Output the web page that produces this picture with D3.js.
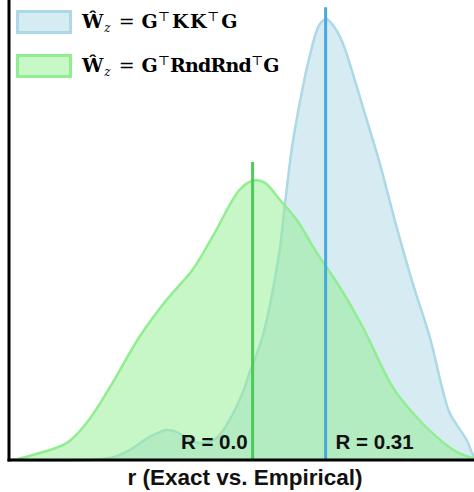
<!DOCTYPE html>
<html>
<head>
<meta charset="utf-8">
<script src="https://cdn.jsdelivr.net/npm/d3@7"></script>
<style>
  body { margin: 0; background: #fff; }
  svg { display: block; }
</style>
</head>
<body>
<svg id="chart" width="474" height="492"></svg>
<script>
// KDE curves (r value, density)
const kkR       = [-1.03, -0.607, -0.522, -0.437, -0.365, -0.323, -0.268, -0.212, -0.153, -0.098, -0.042, -0.013, 0.042, 0.115, 0.136, 0.166, 0.187, 0.242, 0.285, 0.314, 0.348, 0.382, 0.433, 0.484, 0.539, 0.611, 0.679, 0.752, 0.807, 0.837, 0.909, 0.943, 0.99]
const kkDensity = [0, 0.008, 0.042, 0.097, 0.126, 0.118, 0.084, 0.071, 0.092, 0.168, 0.282, 0.366, 0.517, 0.882, 1.063, 1.303, 1.429, 1.693, 1.828, 1.849, 1.815, 1.752, 1.597, 1.429, 1.248, 0.979, 0.744, 0.517, 0.294, 0.197, 0.084, 0.013, 0]

const rndR       = [-1.03, -1.02, -0.934, -0.79, -0.705, -0.607, -0.48, -0.365, -0.255, -0.17, -0.055, 0.0, 0.051, 0.115, 0.187, 0.272, 0.369, 0.467, 0.594, 0.68, 0.781, 0.866, 0.938, 0.99]
const rndDensity = [0, 0, 0.021, 0.071, 0.155, 0.303, 0.517, 0.672, 0.798, 0.937, 1.134, 1.172, 1.164, 1.092, 1.008, 0.870, 0.727, 0.559, 0.307, 0.197, 0.097, 0.034, 0.008, 0]

const meanLines = [
  { label: "R = 0.31", r: 0.31, top: 1.90, color: "#47a9dc" },
  { label: "R = 0.0",  r: 0.0,  top: 1.25, color: "#4ccb5a" }
]

const legendItems = ["KK", "RndRnd"]

const margin = { top: 0, right: 0, bottom: 32, left: 10 }
const W = 474, H = 492
const plotBottom = H - margin.bottom

const svg = d3.select("#chart")

const x = d3.scaleLinear().domain([-1.03, 0.94]).range([margin.left, W])
const y = d3.scaleLinear().domain([0, 1.93]).range([plotBottom, 0])

const area = d3.area()
  .x(d => x(d[0]))
  .y0(y(0))
  .y1(d => y(d[1]))
  .curve(d3.curveCatmullRom)

const line = d3.line()
  .x(d => x(d[0]))
  .y(d => y(d[1]))
  .curve(d3.curveCatmullRom)

const kk = d3.zip(kkR, kkDensity)
const rnd = d3.zip(rndR, rndDensity)

const plot = svg.append("g")

// blue first, green over it
plot.append("path").datum(kk)
  .attr("d", area)
  .attr("fill", "#add8e6").attr("fill-opacity", 0.5)
plot.append("path").datum(kk)
  .attr("d", line)
  .attr("fill", "none").attr("stroke", "#add8e6").attr("stroke-width", 2.5)

plot.append("path").datum(rnd)
  .attr("d", area)
  .attr("fill", "#90ee90").attr("fill-opacity", 0.5)
plot.append("path").datum(rnd)
  .attr("d", line)
  .attr("fill", "none").attr("stroke", "#90ee90").attr("stroke-width", 2.5)

// mean lines
plot.selectAll("line.mean")
  .data(meanLines)
  .enter().append("line")
    .attr("class", "mean")
    .attr("x1", d => x(d.r)).attr("x2", d => x(d.r))
    .attr("y1", d => y(d.top)).attr("y2", y(0))
    .attr("stroke", d => d.color)
    .attr("stroke-width", 3)

plot.selectAll("text.rlab")
  .data(meanLines)
  .enter().append("text")
    .attr("class", "rlab")
    .attr("x", d => d.r == 0 ? x(d.r) - 5 : x(d.r) + 10)
    .attr("y", plotBottom - 11)
    .attr("text-anchor", d => d.r == 0 ? "end" : "start")
    .attr("font-family", "Liberation Sans, Arial, sans-serif")
    .attr("font-weight", "bold")
    .attr("font-size", 20.5)
    .attr("fill", "#111")
    .text(d => d.label)

// spines
svg.append("line")
  .attr("x1", margin.left - 1).attr("x2", margin.left - 1)
  .attr("y1", 0).attr("y2", plotBottom + 1.5)
  .attr("stroke", "#000").attr("stroke-width", 3)
svg.append("line")
  .attr("x1", margin.left - 2.5).attr("x2", W)
  .attr("y1", plotBottom).attr("y2", plotBottom)
  .attr("stroke", "#000").attr("stroke-width", 3)

// x label
svg.append("text")
  .attr("x", 245)
  .attr("y", 485)
  .attr("text-anchor", "middle")
  .attr("font-family", "Liberation Sans, Arial, sans-serif")
  .attr("font-weight", "bold")
  .attr("font-size", 22.5)
  .attr("fill", "#111")
  .text("r (Exact vs. Empirical)")

// legend
const legendColors = [["#add8e6", "#d6ecf3"], ["#90ee90", "#c8f7c8"]]
const legend = svg.append("g")
legendItems.forEach((mid, i) => {
  const g = legend.append("g").attr("transform", `translate(0, ${i * 44})`)
  g.append("rect")
    .attr("x", 17.5).attr("y", 11.5).attr("width", 53).attr("height", 21)
    .attr("fill", legendColors[i][1])
    .attr("stroke", legendColors[i][0]).attr("stroke-width", 3)
  const t = g.append("text")
    .attr("x", 82).attr("y", 28)
    .attr("font-family", "DejaVu Serif, serif")
    .attr("font-weight", "bold")
    .attr("font-size", 19)
    .attr("fill", "#000")
  t.append("tspan").text("Ŵ")
  t.append("tspan").attr("font-style", "italic").attr("font-weight", "normal")
    .attr("font-size", 12).attr("dx", 1).attr("dy", 4).text("z")
  t.append("tspan").attr("font-weight", "normal").attr("dx", 8).attr("dy", -4).text("=")
  t.append("tspan").attr("dx", 7).text("G")
  t.append("tspan").attr("font-weight", "normal").attr("font-size", 13).attr("dy", -7).text("⊤")
  t.append("tspan").attr("dy", 7)
    .attr("dx", mid === "KK" ? 2 : 0)
    .attr("letter-spacing", mid === "KK" ? 1.5 : -0.8)
    .text(mid)
  t.append("tspan").attr("font-weight", "normal").attr("font-size", 13)
    .attr("dx", mid === "KK" ? -1 : 0).attr("dy", -7).text("⊤")
  t.append("tspan").attr("dy", 7).attr("dx", mid === "KK" ? 2 : 0).text("G")
})
</script>
</body>
</html>
